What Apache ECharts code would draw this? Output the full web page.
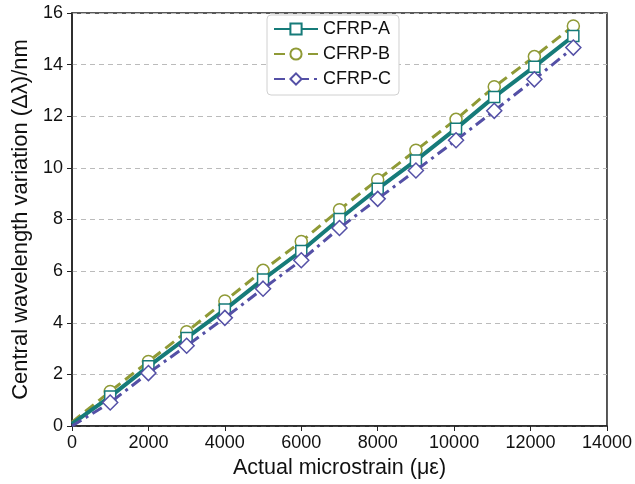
<!DOCTYPE html>
<html>
<head>
<meta charset="utf-8">
<script src="https://cdn.jsdelivr.net/npm/echarts@6/dist/echarts.min.js"></script>
<style>
  html, body { margin: 0; padding: 0; background: #fff; }
  #chart { width: 635px; height: 484px; }
</style>
</head>
<body>
<div id="chart"></div>
<script>
// strain values (x) and wavelength shift (y) for each specimen
const strain = [0, 1000, 2000, 3000, 4000, 5000, 6000, 7000, 8000, 9000, 10050, 11050, 12100, 13120];
const cfrpA = [0.08, 1.14, 2.31, 3.41, 4.51, 5.68, 6.78, 8.02, 9.19, 10.29, 11.52, 12.75, 13.92, 15.11];
const cfrpB = [0.15, 1.34, 2.50, 3.65, 4.84, 6.03, 7.15, 8.38, 9.54, 10.68, 11.88, 13.14, 14.31, 15.50];
const cfrpC = [0.0, 0.91, 2.05, 3.11, 4.19, 5.32, 6.42, 7.67, 8.80, 9.90, 11.07, 12.21, 13.43, 14.66];

const seriesNames = ["CFRP-A", "CFRP-B", "CFRP-C"];
const xTicks = { min: 0, max: 14000, interval: 2000 };
const yTicks = { min: 0, max: 16, interval: 2 };

function pairs(ys) {
  // first point (origin) is drawn without marker
  return strain.map((x, i) =>
    i === 0 ? { value: [x, ys[i]], symbol: "none" } : [x, ys[i]]
  );
}

let myChart = echarts.init(document.getElementById("chart"));
const font = "Liberation Sans, Arial, sans-serif";

myChart.setOption({
  animation: false,
  textStyle: { fontFamily: font },
  grid: {
    left: 72,
    right: 27,
    top: 13,
    bottom: 58,
    show: true,
    borderColor: "#222",
    borderWidth: 1.5,
    backgroundColor: "transparent",
  },
  legend: {
    top: 15,
    left: 267,
    orient: "vertical",
    itemWidth: 44,
    itemHeight: 14,
    itemGap: 7,
    padding: [5, 8, 7, 6],
    borderColor: "#d0d0d0",
    borderWidth: 1,
    borderRadius: 4,
    backgroundColor: "#fff",
    textStyle: { fontSize: 18, color: "#111", fontFamily: font },
    data: seriesNames,
  },
  xAxis: {
    type: "value",
    min: xTicks.min,
    max: xTicks.max,
    interval: xTicks.interval,
    name: "Actual microstrain (με)",
    nameLocation: "middle",
    nameGap: 31,
    nameTextStyle: { fontSize: 21.5, color: "#111", fontFamily: font },
    axisLine: { lineStyle: { color: "#222", width: 1.5 } },
    axisTick: { show: true, length: 5, lineStyle: { color: "#222" } },
    axisLabel: {
      fontSize: 18,
      color: "#111",
      margin: 8,
      formatter: (v) => String(v),
    },
    splitLine: { show: false },
  },
  yAxis: {
    type: "value",
    min: yTicks.min,
    max: yTicks.max,
    interval: yTicks.interval,
    name: "Central wavelength variation (Δλ)/nm",
    nameLocation: "middle",
    nameGap: 40,
    nameTextStyle: { fontSize: 22, color: "#111", fontFamily: font },
    axisLine: { show: true, lineStyle: { color: "#222", width: 1.5 } },
    axisTick: { show: true, length: 5, lineStyle: { color: "#222" } },
    axisLabel: { fontSize: 18, color: "#111", margin: 9 },
    splitLine: {
      show: true,
      lineStyle: { color: "#bbbbbb", type: [5, 4], width: 1 },
    },
  },
  series: [
    {
      name: "CFRP-A",
      type: "line",
      data: pairs(cfrpA),
      symbol: "rect",
      symbolSize: 11,
      showAllSymbol: true,
      lineStyle: { color: "#167b79", width: 4 },
      itemStyle: { color: "#fff", borderColor: "#167b79", borderWidth: 1.5 },
      z: 3,
    },
    {
      name: "CFRP-B",
      type: "line",
      data: pairs(cfrpB),
      symbol: "circle",
      symbolSize: 12,
      showAllSymbol: true,
      lineStyle: { color: "#8f9a36", width: 3, type: [11, 6] },
      itemStyle: { color: "#fff", borderColor: "#8f9a36", borderWidth: 1.5 },
      z: 2,
    },
    {
      name: "CFRP-C",
      type: "line",
      data: pairs(cfrpC),
      symbol: "diamond",
      symbolSize: 15,
      showAllSymbol: true,
      lineStyle: { color: "#5450a6", width: 3, type: [11, 5, 3, 5] },
      itemStyle: { color: "#fff", borderColor: "#5450a6", borderWidth: 1.5 },
      z: 4,
    },
  ],
});
</script>
</body>
</html>
